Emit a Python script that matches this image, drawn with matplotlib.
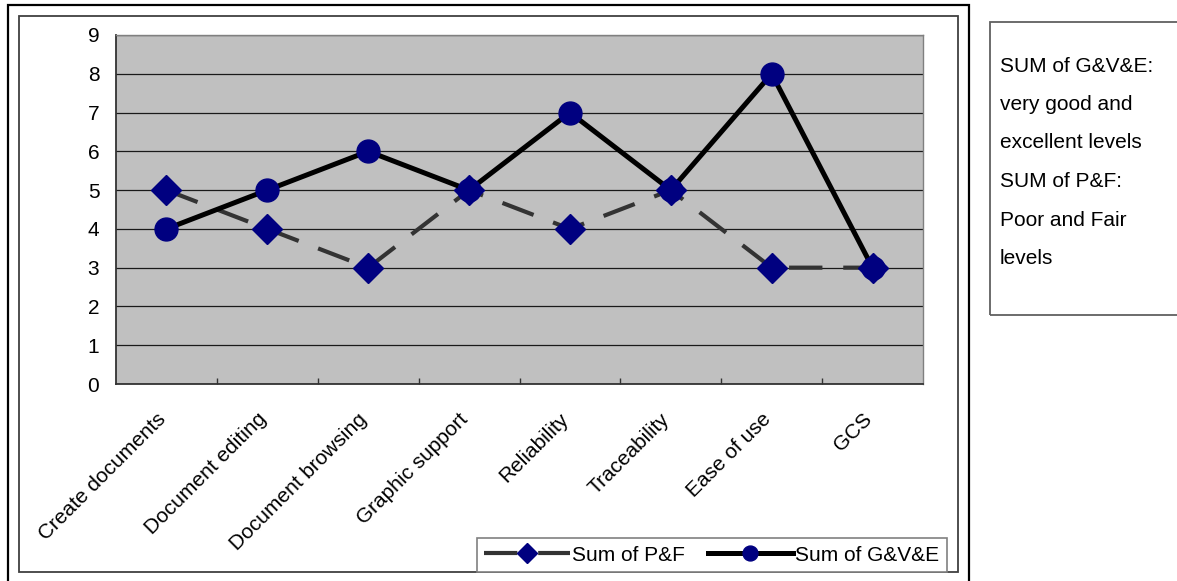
import matplotlib
matplotlib.use("Agg")
import matplotlib.pyplot as plt
from matplotlib.patches import Rectangle
import numpy as np

plt.rcParams['font.family'] = ['Liberation Sans', 'DejaVu Sans']

categories = ["Create documents", "Document editing", "Document browsing",
              "Graphic support", "Reliability", "Traceability", "Ease of use", "GCS"]
sum_pf = [5, 4, 3, 5, 4, 5, 3, 3]
sum_gve = [4, 5, 6, 5, 7, 5, 8, 3]
y_ticks = list(range(0, 10))

W, H = 1177, 581
fig = plt.figure(figsize=(W / 100, H / 100), dpi=100)


def fx(px):
    return px / W


def fy(py):
    return 1 - py / H


# plot area
ax = fig.add_axes([fx(116), fy(384), fx(923) - fx(116), fy(35) - fy(384)])
ax.set_facecolor('#c0c0c0')
x = np.arange(len(categories))

ax.plot(x, sum_pf, color='#333333', lw=3.0, dashes=(8, 5), marker='D',
        markersize=15, markerfacecolor='#000080', markeredgecolor='#000080',
        label='Sum of P&F', zorder=3)
ax.plot(x, sum_gve, color='black', lw=3.6, marker='o',
        markersize=16.5, markerfacecolor='#000080', markeredgecolor='#000080',
        label='Sum of G&V&E', zorder=4)

ax.set_xlim(-0.5, len(categories) - 0.5)
ax.set_ylim(0, 9)
ax.set_yticks(y_ticks)
ax.set_yticklabels([str(v) for v in y_ticks], fontsize=15)
ax.tick_params(axis='y', length=0, pad=12)
ax.yaxis.grid(True, color='#1a1a1a', lw=0.9)
ax.set_axisbelow(True)

ax.set_xticks(x)
ax.set_xticklabels(categories, fontsize=15, rotation=45, ha='right',
                   va='baseline', rotation_mode='anchor')
ax.tick_params(axis='x', which='major', length=0, pad=26)
ax.set_xticks(np.arange(0.5, len(categories) - 1, 1.0), minor=True)
ax.tick_params(axis='x', which='minor', direction='in', length=4,
               width=1, color='#333333')

for side in ['left', 'bottom']:
    ax.spines[side].set_color('#333333')
    ax.spines[side].set_linewidth(1.3)
for side in ['top', 'right']:
    ax.spines[side].set_color('#808080')
    ax.spines[side].set_linewidth(1.0)

# legend
handles, labels = ax.get_legend_handles_labels()
leg = fig.legend(handles, labels, loc='lower left',
                 bbox_to_anchor=(fx(477), fy(572)), ncol=2, fontsize=15,
                 handlelength=4.1, handletextpad=0.1, columnspacing=1.1,
                 markerscale=0.65, borderpad=0.35, borderaxespad=0,
                 frameon=True, fancybox=False, edgecolor='#808080',
                 framealpha=1)
leg.get_frame().set_linewidth(1.2)

# chart frame and outer border
fig.patches.append(Rectangle((fx(19), fy(572)), fx(958) - fx(19), fy(16) - fy(572),
                             transform=fig.transFigure, fill=False,
                             edgecolor='#404040', lw=1.3, zorder=0))
fig.patches.append(Rectangle((fx(8), fy(585)), fx(969) - fx(8), fy(5) - fy(585),
                             transform=fig.transFigure, fill=False,
                             edgecolor='black', lw=1.6, zorder=0))

# note box on the right
fig.patches.append(Rectangle((fx(990), fy(315)), fx(1190) - fx(990), fy(22) - fy(315),
                             transform=fig.transFigure, fill=False,
                             edgecolor='#606060', lw=1.3, zorder=0))
note_lines = ["SUM of G&V&E:", "very good and", "excellent levels",
              "SUM of P&F:", "Poor and Fair", "levels"]
for i, line in enumerate(note_lines):
    fig.text(fx(1000), fy(66 + i * 38.5), line, fontsize=15,
             ha='left', va='center')

fig.savefig("out.png", dpi=100)
